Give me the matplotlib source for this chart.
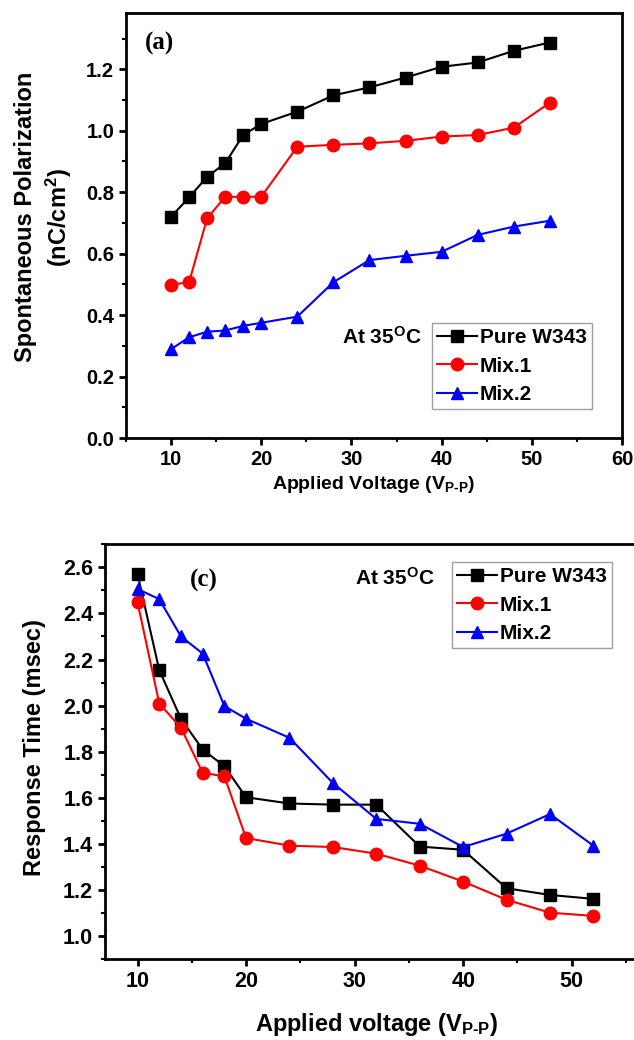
import numpy as np
import matplotlib
matplotlib.use('Agg')
import matplotlib.pyplot as plt
from matplotlib.ticker import MultipleLocator, FormatStrFormatter

plt.rcParams['font.family'] = ['Liberation Sans', 'DejaVu Sans']
plt.rcParams['font.weight'] = 'bold'
plt.rcParams['axes.labelweight'] = 'bold'
plt.rcParams['mathtext.default'] = 'regular'

voltage = [10, 12, 14, 16, 18, 20, 24, 28, 32, 36, 40, 44, 48, 52]

# (a) spontaneous polarization, nC/cm^2
ps_pure = [0.720, 0.783, 0.850, 0.894, 0.986, 1.022, 1.062, 1.115, 1.141, 1.173, 1.208, 1.222, 1.260, 1.287]
ps_mix1 = [0.499, 0.507, 0.715, 0.785, 0.785, 0.785, 0.948, 0.954, 0.959, 0.967, 0.981, 0.986, 1.010, 1.091]
ps_mix2 = [0.289, 0.328, 0.346, 0.350, 0.365, 0.375, 0.395, 0.507, 0.579, 0.593, 0.606, 0.661, 0.688, 0.707]

# (c) response time, msec
rt_pure = [2.571, 2.154, 1.943, 1.809, 1.737, 1.602, 1.575, 1.570, 1.570, 1.388, 1.374, 1.207, 1.178, 1.161]
rt_mix1 = [2.448, 2.009, 1.904, 1.708, 1.693, 1.425, 1.392, 1.386, 1.357, 1.305, 1.236, 1.157, 1.101, 1.087]
rt_mix2 = [2.506, 2.462, 2.300, 2.226, 1.998, 1.943, 1.860, 1.664, 1.508, 1.487, 1.386, 1.444, 1.529, 1.392]

names = ['Pure W343', 'Mix.1', 'Mix.2']
colors = ['black', 'red', 'blue']
markers = ['s', 'o', '^']

fig = plt.figure(figsize=(6.34, 10.40), dpi=100)
ax1 = fig.add_axes([0.1987, 0.5788, 0.7823, 0.4084])
ax2 = fig.add_axes([0.1656, 0.0779, 0.8559, 0.3987])


def style_axes(ax, labelsize):
    for sp in ax.spines.values():
        sp.set_linewidth(2)
    ax.tick_params(which='major', direction='out', length=5, width=2, labelsize=labelsize, top=False, right=False)
    ax.tick_params(which='minor', direction='out', length=3, width=1.5, top=False, right=False)
    ax.xaxis.set_major_locator(MultipleLocator(10))
    ax.xaxis.set_minor_locator(MultipleLocator(5))
    ax.yaxis.set_major_locator(MultipleLocator(0.2))
    ax.yaxis.set_minor_locator(MultipleLocator(0.1))
    ax.yaxis.set_major_formatter(FormatStrFormatter('%.1f'))


def add_legend(ax, **kw):
    leg = ax.legend(fontsize=15, frameon=True, fancybox=False, handlelength=1.9, handletextpad=0.15,
                    borderpad=0.25, labelspacing=0.45, borderaxespad=0, **kw)
    leg.get_frame().set_edgecolor('#888888')
    leg.get_frame().set_linewidth(1)
    return leg


for ax, series, ls in [(ax1, [ps_pure, ps_mix1, ps_mix2], 14.5), (ax2, [rt_pure, rt_mix1, rt_mix2], 15.5)]:
    for y, n, c, m in zip(series, names, colors, markers):
        ax.plot(voltage, y, color=c, marker=m, markersize=9, linewidth=1.5, label=n)
    style_axes(ax, ls)

# panel (a)
ax1.set_xlim(5, 60)
ax1.set_ylim(0, 1.382)
ax1.set_xlabel('Applied Voltage (V$_{P\u2010P}$)', fontsize=14, labelpad=4)
ax1.set_ylabel('Spontaneous Polarization\n(nC/cm$^{2}$)', fontsize=17, linespacing=1.3)
ax1.yaxis.set_label_coords(-0.105, 0.52)
ax1.text(0.038, 0.93, '(a)', transform=ax1.transAxes, fontsize=18, fontweight='bold',
         family=['Liberation Serif', 'DejaVu Serif'], va='center')
add_legend(ax1, loc='lower right', bbox_to_anchor=(0.9395, 0.068))
ax1.text(0.435, 0.238, 'At 35$^{O}$C', transform=ax1.transAxes, fontsize=15, va='center')

# panel (c)
ax2.set_xlim(7, 57)
ax2.set_ylim(0.9, 2.7)
ax2.set_xlabel('Applied voltage (V$_{P\u2010P}$)', fontsize=17, labelpad=14)
ax2.set_ylabel('Response Time (msec)', fontsize=17)
ax2.yaxis.set_label_coords(-0.108, 0.511)
ax2.text(0.157, 0.914, '(c)', transform=ax2.transAxes, fontsize=18, fontweight='bold',
         family=['Liberation Serif', 'DejaVu Serif'], va='center')
add_legend(ax2, loc='upper right', bbox_to_anchor=(0.934, 0.957))
ax2.text(0.461, 0.919, 'At 35$^{O}$C', transform=ax2.transAxes, fontsize=15, va='center')

fig.savefig('out.png', dpi=100)
